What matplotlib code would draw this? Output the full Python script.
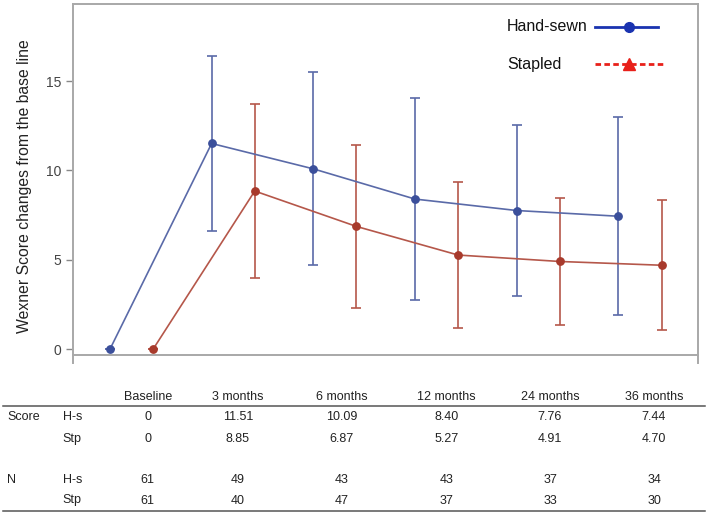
import matplotlib
matplotlib.use("Agg")
import matplotlib.pyplot as plt
from matplotlib.lines import Line2D
import numpy as np

plt.rcParams['font.family'] = ['Liberation Sans', 'DejaVu Sans']

categories = ["Baseline", "3 months", "6 months", "12 months", "24 months", "36 months"]
hs_mean = [0, 11.51, 10.09, 8.40, 7.76, 7.44]
stp_mean = [0, 8.85, 6.87, 5.27, 4.91, 4.70]
hs_err = [0, 4.89, 5.40, 5.65, 4.80, 5.54]
stp_err = [0, 4.84, 4.57, 4.06, 3.57, 3.63]
n_hs = [61, 49, 43, 43, 37, 34]
n_stp = [61, 40, 47, 37, 33, 30]
y_ticks = [0, 5, 10, 15]
ylabel = "Wexner Score changes from the base line"
legend_labels = ["Hand-sewn", "Stapled"]

W, H = 709, 513
fig = plt.figure(figsize=(W / 100, H / 100), dpi=100)

def fx(px):
    return px / W

def fy(py):
    return 1 - py / H

ax = fig.add_axes([fx(73.3), fy(355), fx(698) - fx(73.3), fy(4) - fy(355)])

x = np.arange(len(categories))
off = 0.212
hs_line = '#5a6aa8'
hs_mark = '#3b4f9b'
stp_line = '#b5574a'
stp_mark = '#a83a2c'

ax.errorbar(x - off, hs_mean, yerr=hs_err, color=hs_line, lw=1.2, elinewidth=1.2,
            capsize=3.8, capthick=1.2, marker='o', ms=5.3, mfc=hs_mark, mec=hs_mark, zorder=3)
ax.errorbar(x + off, stp_mean, yerr=stp_err, color=stp_line, lw=1.2, elinewidth=1.2,
            capsize=3.8, capthick=1.2, marker='o', ms=5.3, mfc=stp_mark, mec=stp_mark, zorder=3)

ax.set_xlim(-0.572, 5.570)
ax.set_ylim(-0.32, 19.31)
ax.set_xticks([])
ax.set_yticks(y_ticks)
ax.tick_params(axis='y', length=5, width=1, color='#888888', pad=3.5,
               labelsize=10, labelcolor='#444444')
for s in ax.spines.values():
    s.set_color('#a8a8a8')
    s.set_linewidth(1.4)
ax.spines['left'].set_bounds(-0.77, 19.31)
ax.spines['right'].set_bounds(-0.77, 19.31)

fig.text(fx(25), fy(186), ylabel, rotation=90, ha='center', va='center', fontsize=11.3, color='#222222')

# Legend (text left-aligned, handle on the right)
leg_styles = [
    dict(color='#1a33b0', lw=2, ls='-', marker='o', ms=7, y=26.5, x1=658),
    dict(color='#e8201a', lw=2, ls=(0, (2.0, 1.2)), marker='^', ms=8, y=64, x1=663),
]
for lab, st in zip(legend_labels, leg_styles):
    fig.text(fx(507), fy(st['y']), lab, ha='left', va='center', fontsize=11.5, color='#111111')
    fig.add_artist(Line2D([fx(595), fx(st['x1'])], [fy(st['y']), fy(st['y'])],
                          color=st['color'], lw=st['lw'], ls=st['ls']))
    fig.add_artist(Line2D([fx(628.5)], [fy(st['y'])], color=st['color'], marker=st['marker'],
                          ms=st['ms'], ls='none'))

# Table below
tcol = '#222222'
fs = 9
col_x = [147.7, 238, 341.7, 446.7, 550, 654]
for cx, c in zip(col_x, categories):
    fig.text(fx(cx), fy(396.7), c, ha='center', va='center', fontsize=fs, color=tcol)
fig.add_artist(Line2D([fx(3), fx(705)], [fy(406), fy(406)], color='#555555', lw=1.1))
fig.add_artist(Line2D([fx(3), fx(705)], [fy(511), fy(511)], color='#555555', lw=1.1))

rows = [
    ("Score", "H-s", [("%.2f" % v if v != 0 else "0") for v in hs_mean], 417.5),
    ("", "Stp", [("%.2f" % v if v != 0 else "0") for v in stp_mean], 439),
    ("N", "H-s", [str(v) for v in n_hs], 479.8),
    ("", "Stp", [str(v) for v in n_stp], 500.5),
]
for lab, grp, vals, py in rows:
    if lab:
        fig.text(fx(7), fy(py), lab, ha='left', va='center', fontsize=fs, color=tcol)
    fig.text(fx(62.7), fy(py), grp, ha='left', va='center', fontsize=fs, color=tcol)
    for cx, v in zip(col_x, vals):
        fig.text(fx(cx), fy(py), v, ha='center', va='center', fontsize=fs, color=tcol)

fig.savefig("out.png", dpi=100)
